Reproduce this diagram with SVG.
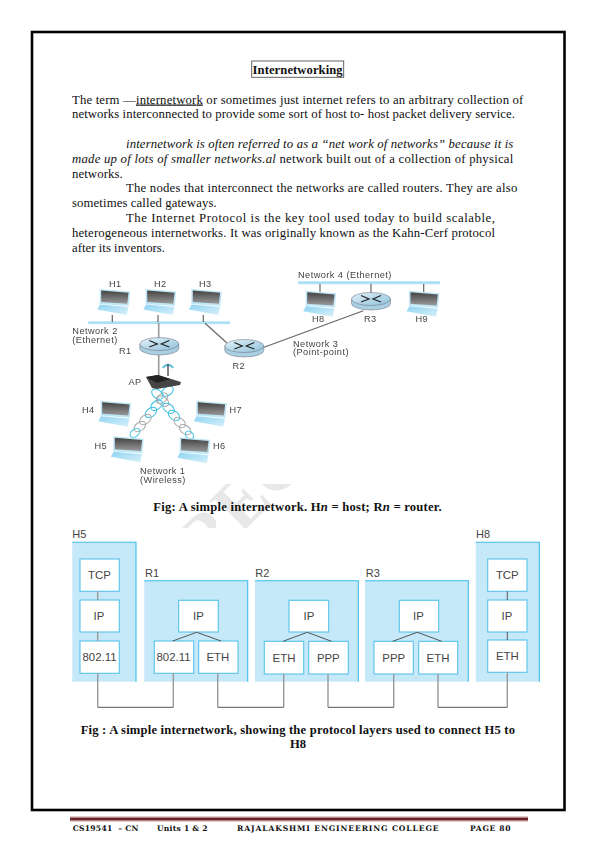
<svg xmlns="http://www.w3.org/2000/svg" xmlns:xlink="http://www.w3.org/1999/xlink" width="596" height="842" viewBox="0 0 596 842">
<style>
text{font-family:"Liberation Serif","Times New Roman",serif;fill:#111}
.b{font-size:12.75px}
.h{font-size:12.6px;font-weight:bold}
.f{font-family:"DejaVu Serif",serif;font-size:7.6px;font-weight:bold}
.n{font-family:"Liberation Sans",Arial,sans-serif;font-size:9.2px;fill:#444;letter-spacing:.45px}
.p{font-family:"Liberation Sans",Arial,sans-serif;font-size:11.4px;fill:#444;text-anchor:middle}
.l{font-family:"Liberation Sans",Arial,sans-serif;font-size:11px;fill:#444}
.bar{fill:#aee0f4}
.wire{stroke:#666;stroke-width:1.2;fill:none}
.box{fill:#fff;stroke:#58c4ea;stroke-width:1.1}
.host{fill:#c6e9f9;stroke:none}
.edge{fill:none;stroke:#3cbcea;stroke-width:1.1}
.v{stroke:#999;stroke-width:1.4;fill:none}
.d{stroke:#555;stroke-width:1;fill:none}
.cb{fill:none;stroke:#3cc0e0;stroke-width:1}
.cg{fill:none;stroke:#aaa;stroke-width:1}
</style>
<defs>
<linearGradient id="scr" x1="0" y1="0" x2="0" y2="1"><stop offset="0" stop-color="#444"/><stop offset="1" stop-color="#999"/></linearGradient>
<linearGradient id="kb" x1="0" y1="0" x2="1" y2="1"><stop offset="0" stop-color="#8fd4f2"/><stop offset="1" stop-color="#d8f0fa"/></linearGradient>
<linearGradient id="rt" x1="0" y1="0" x2="1" y2="1"><stop offset="0" stop-color="#e2f3fb"/><stop offset="1" stop-color="#8fc0d8"/></linearGradient>
<filter id="soft" x="-5%" y="-5%" width="110%" height="110%"><feGaussianBlur stdDeviation="0.35"/></filter>
<clipPath id="wm"><rect x="100" y="484" width="300" height="44"/></clipPath>
<g id="laptop">
<polygon points="-1,-1 29.5,1.5 28,16 -1,14" fill="#bfe6f6"/>
<polygon points="0.5,0.5 27.8,2.8 26.6,13.8 0.5,12" fill="url(#scr)"/>
<polygon points="-0.7,14.5 -3.5,19.5 26,25 27.7,17" fill="url(#kb)"/>
</g>
<g id="router">
<path d="M-19.5,0v4.5a19.5,6.5 0 0 0 39,0v-4.5z" fill="#a9cfe2" stroke="#667" stroke-width=".5"/>
<ellipse cx="0" cy="0" rx="19.5" ry="6.5" fill="url(#rt)" stroke="#667" stroke-width=".5"/>
<path d="M-10,-3.5L-2,0-10,3M10,-3.5L2,0 10,3" fill="none" stroke="#222" stroke-width="1.2"/>
</g>
</defs>
<rect width="596" height="842" fill="#fff"/>
<g id="watermark" clip-path="url(#wm)">
<text transform="translate(205,570) rotate(-45)" style="font-size:70px;fill:#e8e8e8;font-weight:bold">REC</text>
</g>
<rect id="page-border" x="32" y="32" width="532.5" height="778" fill="none" stroke="#000" stroke-width="2.6"/>
<g id="title"><rect x="251.7" y="61" width="92" height="16.3" fill="none" stroke="#555" stroke-width=".9"/>
<text class="h" x="252.6" y="74" textLength="90">Internetworking</text></g>
<g id="body">
<text class="b" x="72" y="103.5" textLength="451.3">The term —<tspan text-decoration="underline">internetwork</tspan> or sometimes just internet refers to an arbitrary collection of</text>
<text class="b" x="72" y="118.3" textLength="443">networks interconnected to provide some sort of host to- host packet delivery service.</text>
<text class="b" x="126" y="147.7" textLength="387.3" font-style="italic">internetwork is often referred to as a “net work of networks” because it is</text>
<text class="b" x="72" y="162.7" textLength="441.3"><tspan font-style="italic">made up of lots of smaller networks.al</tspan> network built out of a collection of physical</text>
<text class="b" x="72" y="177.7" textLength="50.7">networks.</text>
<text class="b" x="126" y="192.3" textLength="391.3">The nodes that interconnect the networks are called routers. They are also</text>
<text class="b" x="72" y="207.3" textLength="144.7">sometimes called gateways.</text>
<text class="b" x="126" y="222.3" textLength="369">The Internet Protocol is the key tool used today to build scalable,</text>
<text class="b" x="72" y="237.3" textLength="423">heterogeneous internetworks. It was originally known as the Kahn-Cerf protocol</text>
<text class="b" x="72" y="252.3" textLength="93">after its inventors.</text>
</g>
<g id="figure1" filter="url(#soft)">
<g id="connectors1">
<rect class="bar" x="88.3" y="321.3" width="141.7" height="2.8"/>
<rect class="bar" x="298" y="281.2" width="142" height="3"/>
<path class="wire" d="M112.3,315V322M158,315V322M203.3,315V322M320,284V292M423.7,284V292M371,284V293"/>
<path d="M158.7,323V338M158.7,355V376" stroke="#999" stroke-width="1.6" fill="none"/>
<path class="wire" d="M205,323.3L226.7,342.7M264,347.3L363.3,310.7"/>
</g>
<g id="chains">
<g transform="translate(170,388) rotate(128)">
<ellipse class="cb" cx="4" cy="0" rx="6.5" ry="4.2" transform="rotate(15 4 0)"/><ellipse class="cg" cx="13" cy="0" rx="6.5" ry="4.2" transform="rotate(15 13 0)"/><ellipse class="cb" cx="22" cy="0" rx="6.5" ry="4.2" transform="rotate(15 22 0)"/><ellipse class="cb" cx="31" cy="0" rx="6.5" ry="4.2" transform="rotate(15 31 0)"/><ellipse class="cg" cx="40" cy="0" rx="6.5" ry="4.2" transform="rotate(15 40 0)"/><ellipse class="cg" cx="49" cy="0" rx="6.5" ry="4.2" transform="rotate(15 49 0)"/><ellipse class="cb" cx="57" cy="0" rx="5.5" ry="3.6" transform="rotate(15 57 0)"/>
</g>
<g transform="translate(155,391) rotate(52)">
<ellipse class="cb" cx="4" cy="0" rx="6.5" ry="4.2" transform="rotate(-15 4 0)"/><ellipse class="cg" cx="13" cy="0" rx="6.5" ry="4.2" transform="rotate(-15 13 0)"/><ellipse class="cb" cx="22" cy="0" rx="6.5" ry="4.2" transform="rotate(-15 22 0)"/><ellipse class="cb" cx="31" cy="0" rx="6.5" ry="4.2" transform="rotate(-15 31 0)"/><ellipse class="cg" cx="40" cy="0" rx="6.5" ry="4.2" transform="rotate(-15 40 0)"/><ellipse class="cg" cx="49" cy="0" rx="6.5" ry="4.2" transform="rotate(-15 49 0)"/><ellipse class="cb" cx="56" cy="0" rx="4.5" ry="3.4" transform="rotate(-15 56 0)"/>
</g>
</g>
<g id="H1"><use xlink:href="#laptop" href="#laptop" x="100.7" y="290"/><text class="n" x="109" y="287">H1</text></g>
<g id="H2"><use xlink:href="#laptop" href="#laptop" x="146.7" y="290"/><text class="n" x="154" y="287">H2</text></g>
<g id="H3"><use xlink:href="#laptop" href="#laptop" x="192.3" y="290"/><text class="n" x="199" y="287">H3</text></g>
<g id="H4"><use xlink:href="#laptop" href="#laptop" x="101.7" y="401.7"/><text class="n" x="82" y="412.5">H4</text></g>
<g id="H5"><use xlink:href="#laptop" href="#laptop" x="114.3" y="437.3"/><text class="n" x="94.5" y="449">H5</text></g>
<g id="H6"><use xlink:href="#laptop" href="#laptop" x="180.7" y="438.3"/><text class="n" x="213" y="449">H6</text></g>
<g id="H7"><use xlink:href="#laptop" href="#laptop" x="197.3" y="401.7"/><text class="n" x="229.5" y="412.5">H7</text></g>
<g id="H8"><use xlink:href="#laptop" href="#laptop" x="306.7" y="291.7"/><text class="n" x="312" y="322">H8</text></g>
<g id="H9"><use xlink:href="#laptop" href="#laptop" x="410" y="291.7"/><text class="n" x="415.5" y="322">H9</text></g>
<g id="R1"><use xlink:href="#router" href="#router" x="159.3" y="344"/><text class="n" x="119" y="354">R1</text></g>
<g id="R2"><use xlink:href="#router" href="#router" x="244.3" y="346"/><text class="n" x="232.5" y="368.5">R2</text></g>
<g id="R3"><use xlink:href="#router" href="#router" x="371" y="299"/><text class="n" x="364" y="322">R3</text></g>
<g id="AP">
<path d="M163,368a5.5,5.5 0 0 1 10,0" fill="none" stroke="#6cc4e0" stroke-width="2.2"/>
<path d="M168,364V376" stroke="#333" stroke-width="1.2"/>
<polygon points="146,377 158,375 181,382 180,385 157,389 152,388" fill="#444"/>
<polygon points="146,377 158,375 170,379 157,383" fill="#222"/>
<text class="n" x="128.5" y="385">AP</text>
</g>
<text class="n" x="72.3" y="334">Network 2</text>
<text class="n" x="72.3" y="342.7">(Ethernet)</text>
<text class="n" x="298" y="277.5">Network 4 (Ethernet)</text>
<text class="n" x="293" y="346.5">Network 3</text>
<text class="n" x="293" y="355">(Point-point)</text>
<text class="n" x="140" y="474">Network 1</text>
<text class="n" x="140" y="483">(Wireless)</text>
</g>
<text id="caption1" class="h" x="153.3" y="511" textLength="288.4">Fig: A simple internetwork. H<tspan font-style="italic">n</tspan> = host; R<tspan font-style="italic">n</tspan> = router.</text>
<g id="figure2">
<g id="host-H5">
<rect class="host" x="72.3" y="542.3" width="63.7" height="139.4"/>
<path class="edge" d="M72.3,542.3H136V681.7"/>
<text class="l" x="72.3" y="538">H5</text>
<rect class="box" x="80" y="559" width="39.3" height="32.3"/><text class="p" x="99.5" y="579">TCP</text>
<rect class="box" x="80" y="600" width="39.3" height="32"/><text class="p" x="99" y="620">IP</text>
<rect class="box" x="80" y="641" width="39.3" height="32.3"/><text class="p" x="99.5" y="661">802.11</text>
<path class="v" d="M97.7,591.3V600M97.7,632V641"/>
</g>
<g id="router-R1">
<rect class="host" x="144.3" y="580.7" width="103.4" height="101"/>
<path class="edge" d="M144.3,580.7H247.7V681.7"/>
<text class="l" x="145" y="576.7">R1</text>
<rect class="box" x="178.7" y="600.3" width="39.6" height="31.7"/><text class="p" x="198.5" y="620">IP</text>
<rect class="box" x="154.3" y="641" width="39.4" height="32.3"/><text class="p" x="173.5" y="661">802.11</text>
<rect class="box" x="198.7" y="641" width="39.3" height="32.3"/><text class="p" x="217.8" y="661">ETH</text>
<path class="d" d="M172.7,641L196.7,632.3 221,641"/>
</g>
<g id="router-R2">
<rect class="host" x="255" y="580.7" width="103.3" height="101"/>
<path class="edge" d="M255,580.7H358.3V681.7"/>
<text class="l" x="255.3" y="576.7">R2</text>
<rect class="box" x="289" y="600.3" width="39.7" height="31.7"/><text class="p" x="309" y="620">IP</text>
<rect class="box" x="264.3" y="641.3" width="39.4" height="32.7"/><text class="p" x="284" y="661.5">ETH</text>
<rect class="box" x="308.7" y="641.3" width="39.6" height="32.7"/><text class="p" x="328.3" y="661.5">PPP</text>
<path class="d" d="M283,641.3L307.3,632.3 331.5,641.3"/>
</g>
<g id="router-R3">
<rect class="host" x="365" y="580.7" width="103.3" height="101"/>
<path class="edge" d="M365,580.7H468.3V681.7"/>
<text class="l" x="365.7" y="576.7">R3</text>
<rect class="box" x="399.3" y="600.3" width="39.4" height="31.7"/><text class="p" x="418.5" y="620">IP</text>
<rect class="box" x="374" y="641.3" width="39.3" height="32.7"/><text class="p" x="393.7" y="661.5">PPP</text>
<rect class="box" x="418.7" y="641.3" width="39" height="32.7"/><text class="p" x="438" y="661.5">ETH</text>
<path class="d" d="M392.7,641.3L417.3,632.3 441.7,641.3"/>
</g>
<g id="host-H8">
<rect class="host" x="475.7" y="542.3" width="63.6" height="139.4"/>
<path class="edge" d="M475.7,542.3H539.3V681.7"/>
<text class="l" x="476" y="538">H8</text>
<rect class="box" x="487.7" y="559" width="39.3" height="32.3"/><text class="p" x="507.3" y="579">TCP</text>
<rect class="box" x="487.7" y="600" width="39.3" height="32"/><text class="p" x="507" y="620">IP</text>
<rect class="box" x="487.7" y="640" width="39.3" height="32.3"/><text class="p" x="507.3" y="660">ETH</text>
<path class="d" d="M507.3,591.3V600M507.3,632V640"/>
</g>
<g id="connectors2">
<path class="v" d="M97.7,673.3V707.3M173.3,673.3V707.3M217.7,673.3V707.3M283.7,674V707.3M328,674V707.3M393.7,674V707.3M438,674V707.3M507.3,672.3V707.3"/>
<path class="d" d="M97.7,707.3H173.3M217.7,707.3H283.7M328,707.3H393.7M438,707.3H507.3"/>
</g>
</g>
<g id="caption2">
<text class="h" x="80.7" y="734" textLength="434.3">Fig : A simple internetwork, showing the protocol layers used to connect H5 to</text>
<text class="h" x="290" y="748.3" textLength="16">H8</text>
</g>
<g id="footer">
<rect x="70" y="818" width="458" height="2.6" fill="#6e2020"/>
<rect x="70" y="816.6" width="458" height="1.4" fill="#b08a8a"/>
<rect x="70" y="820.6" width="458" height="1" fill="#c8a8a8"/>
<text class="f" x="72.8" y="831" textLength="65.6" xml:space="preserve">CS19541  – CN</text>
<text class="f" x="157" y="831" textLength="50.6">Units 1 &amp; 2</text>
<text class="f" x="237" y="831" textLength="201.6">RAJALAKSHMI ENGINEERING COLLEGE</text>
<text class="f" x="470" y="831" textLength="40.6">PAGE 80</text>
</g>
</svg>
